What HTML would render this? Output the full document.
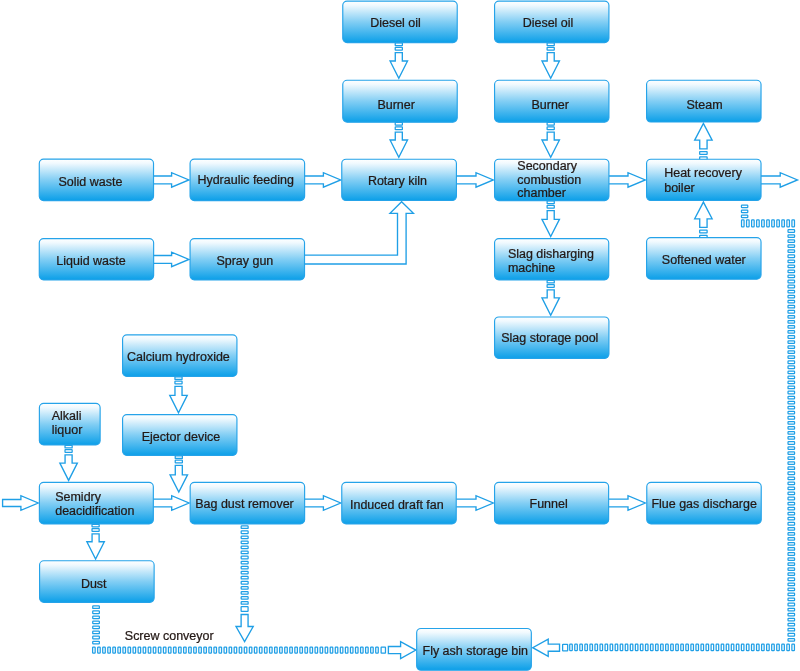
<!DOCTYPE html>
<html lang="en">
<head>
<meta charset="utf-8">
<title>Hazardous waste incineration process flow</title>
<style>
html,body{margin:0;padding:0;background:#fff;}
body{width:800px;height:671px;overflow:hidden;}
svg{display:block;will-change:transform;}
.b{fill:url(#g);stroke:#25a3e9;stroke-width:1.15;}
.a{fill:#fff;stroke:#1f9fe6;stroke-width:1.35;stroke-linejoin:miter;stroke-miterlimit:10;}
.d{fill:#fff;stroke:#1f9fe6;stroke-width:1.25;}
text{font-family:"Liberation Sans",Arial,Helvetica,sans-serif;font-size:13.3px;fill:#231815;stroke:#231815;stroke-width:0.25px;}
</style>
</head>
<body>
<svg width="800" height="671" viewBox="0 0 800 671">
<defs>
<linearGradient id="g" x1="0" y1="0" x2="0" y2="1">
<stop offset="0" stop-color="#ffffff"/>
<stop offset="0.1" stop-color="#f0f9fe"/>
<stop offset="0.5" stop-color="#82cef4"/>
<stop offset="1" stop-color="#0b9fe8"/>
</linearGradient>
</defs>
<rect class="d" x="395.23" y="42.98" width="7.15" height="2.65" rx="0.3" ry="0.3"/>
<rect class="d" x="395.23" y="47.38" width="7.15" height="2.65" rx="0.3" ry="0.3"/>
<path class="a" d="M395.28 52.58V61H390.06L398.8 78.29L407.54 61H402.32V52.58Z"/>
<rect class="d" x="395.23" y="122.47" width="7.15" height="2.65" rx="0.3" ry="0.3"/>
<rect class="d" x="395.23" y="126.87" width="7.15" height="2.65" rx="0.3" ry="0.3"/>
<path class="a" d="M395.28 132.08V140H390.06L398.8 157.29L407.54 140H402.32V132.08Z"/>
<rect class="d" x="547.12" y="42.98" width="7.15" height="2.65" rx="0.3" ry="0.3"/>
<rect class="d" x="547.12" y="47.38" width="7.15" height="2.65" rx="0.3" ry="0.3"/>
<path class="a" d="M547.18 52.58V61H541.96L550.7 78.29L559.44 61H554.23V52.58Z"/>
<rect class="d" x="547.12" y="122.47" width="7.15" height="2.65" rx="0.3" ry="0.3"/>
<rect class="d" x="547.12" y="126.87" width="7.15" height="2.65" rx="0.3" ry="0.3"/>
<path class="a" d="M547.18 132.08V140H541.96L550.7 157.29L559.44 140H554.23V132.08Z"/>
<rect class="d" x="547.12" y="200.97" width="7.15" height="2.65" rx="0.3" ry="0.3"/>
<rect class="d" x="547.12" y="205.38" width="7.15" height="2.65" rx="0.3" ry="0.3"/>
<path class="a" d="M547.18 210.57V219.3H541.96L550.7 236.59L559.44 219.3H554.23V210.57Z"/>
<rect class="d" x="547.12" y="280.28" width="7.15" height="2.65" rx="0.3" ry="0.3"/>
<rect class="d" x="547.12" y="284.68" width="7.15" height="2.65" rx="0.3" ry="0.3"/>
<path class="a" d="M547.18 289.88V297.9H541.96L550.7 315.19L559.44 297.9H554.23V289.88Z"/>
<rect class="d" x="699.67" y="156.97" width="7.45" height="2.65" rx="0.3" ry="0.3"/>
<rect class="d" x="699.67" y="151.68" width="7.45" height="2.65" rx="0.3" ry="0.3"/>
<path class="a" d="M699.73 148.82V140.1H694.68L703.4 123.37L712.12 140.1H707.07V148.82Z"/>
<rect class="d" x="699.67" y="235.47" width="7.45" height="2.65" rx="0.3" ry="0.3"/>
<rect class="d" x="699.67" y="230.18" width="7.45" height="2.65" rx="0.3" ry="0.3"/>
<path class="a" d="M699.73 227.32V218.8H694.68L703.4 202.07L712.12 218.8H707.07V227.32Z"/>
<rect class="d" x="65.02" y="445.28" width="7.15" height="2.65" rx="0.3" ry="0.3"/>
<rect class="d" x="65.02" y="449.68" width="7.15" height="2.65" rx="0.3" ry="0.3"/>
<path class="a" d="M65.07 454.88V463.1H59.86L68.6 480.39L77.34 463.1H72.12V454.88Z"/>
<rect class="d" x="174.93" y="376.78" width="7.15" height="2.65" rx="0.3" ry="0.3"/>
<rect class="d" x="174.93" y="381.18" width="7.15" height="2.65" rx="0.3" ry="0.3"/>
<path class="a" d="M174.97 386.38V395.4H169.76L178.5 412.69L187.24 395.4H182.03V386.38Z"/>
<rect class="d" x="175.23" y="455.78" width="7.15" height="2.65" rx="0.3" ry="0.3"/>
<rect class="d" x="175.23" y="460.18" width="7.15" height="2.65" rx="0.3" ry="0.3"/>
<path class="a" d="M175.28 465.38V474.8H170.06L178.8 492.09L187.54 474.8H182.33V465.38Z"/>
<rect class="d" x="92.02" y="524.27" width="7.15" height="2.65" rx="0.3" ry="0.3"/>
<rect class="d" x="92.02" y="528.67" width="7.15" height="2.65" rx="0.3" ry="0.3"/>
<path class="a" d="M92.07 533.88V541.7H86.86L95.6 558.99L104.34 541.7H99.12V533.88Z"/>
<path class="a" d="M153.5 175.97H171.6V172.65L188.89 179.9L171.6 187.15V183.83H153.5"/>
<path class="a" d="M304.5 175.97H323.4V172.65L340.69 179.9L323.4 187.15V183.83H304.5"/>
<path class="a" d="M456.5 175.97H476V172.65L493.29 179.9L476 187.15V183.83H456.5"/>
<path class="a" d="M609 175.97H628V172.65L645.29 179.9L628 187.15V183.83H609"/>
<path class="a" d="M761 175.97H780.2V172.65L797.49 179.9L780.2 187.15V183.83H761"/>
<path class="a" d="M153.5 255.47H171.6V252.15L188.89 259.4L171.6 266.65V263.32H153.5"/>
<path class="a" d="M153.3 499.07H171.7V495.75L188.99 503L171.7 510.25V506.93H153.3"/>
<path class="a" d="M304.5 499.07H323.4V495.75L340.69 503L323.4 510.25V506.93H304.5"/>
<path class="a" d="M456.3 499.07H476V495.75L493.29 503L476 510.25V506.93H456.3"/>
<path class="a" d="M608.8 499.07H628V495.75L645.29 503L628 510.25V506.93H608.8"/>
<path class="a" d="M2.58 499.52H20.9V495.75L38.19 503L20.9 510.25V506.48H2.58Z"/>
<path class="a" d="M304.5 255.1H397.5V213.3H390L401.6 201.8L413.4 213.3H406.1V264H304.5"/>
<rect class="d" x="741.43" y="205.03" width="6.35" height="2.55" rx="0.6" ry="0.6"/>
<rect class="d" x="741.43" y="210.12" width="6.35" height="2.55" rx="0.6" ry="0.6"/>
<rect class="d" x="741.43" y="215.12" width="6.35" height="2.55" rx="0.6" ry="0.6"/>
<rect class="d" x="741.52" y="219.92" width="2.55" height="6.85" rx="0.6" ry="0.6"/>
<rect class="d" x="746.56" y="219.92" width="2.55" height="6.85" rx="0.6" ry="0.6"/>
<rect class="d" x="751.61" y="219.92" width="2.55" height="6.85" rx="0.6" ry="0.6"/>
<rect class="d" x="756.64" y="219.92" width="2.55" height="6.85" rx="0.6" ry="0.6"/>
<rect class="d" x="761.68" y="219.92" width="2.55" height="6.85" rx="0.6" ry="0.6"/>
<rect class="d" x="766.73" y="219.92" width="2.55" height="6.85" rx="0.6" ry="0.6"/>
<rect class="d" x="771.76" y="219.92" width="2.55" height="6.85" rx="0.6" ry="0.6"/>
<rect class="d" x="776.8" y="219.92" width="2.55" height="6.85" rx="0.6" ry="0.6"/>
<rect class="d" x="781.85" y="219.92" width="2.55" height="6.85" rx="0.6" ry="0.6"/>
<rect class="d" x="786.88" y="219.92" width="2.55" height="6.85" rx="0.6" ry="0.6"/>
<rect class="d" x="791.92" y="219.92" width="2.55" height="6.85" rx="0.6" ry="0.6"/>
<rect class="d" x="788.02" y="229.72" width="6.55" height="2.55" rx="0.6" ry="0.6"/>
<rect class="d" x="788.02" y="234.77" width="6.55" height="2.55" rx="0.6" ry="0.6"/>
<rect class="d" x="788.02" y="239.82" width="6.55" height="2.55" rx="0.6" ry="0.6"/>
<rect class="d" x="788.02" y="244.87" width="6.55" height="2.55" rx="0.6" ry="0.6"/>
<rect class="d" x="788.02" y="249.91" width="6.55" height="2.55" rx="0.6" ry="0.6"/>
<rect class="d" x="788.02" y="254.96" width="6.55" height="2.55" rx="0.6" ry="0.6"/>
<rect class="d" x="788.02" y="260.01" width="6.55" height="2.55" rx="0.6" ry="0.6"/>
<rect class="d" x="788.02" y="265.05" width="6.55" height="2.55" rx="0.6" ry="0.6"/>
<rect class="d" x="788.02" y="270.1" width="6.55" height="2.55" rx="0.6" ry="0.6"/>
<rect class="d" x="788.02" y="275.15" width="6.55" height="2.55" rx="0.6" ry="0.6"/>
<rect class="d" x="788.02" y="280.2" width="6.55" height="2.55" rx="0.6" ry="0.6"/>
<rect class="d" x="788.02" y="285.24" width="6.55" height="2.55" rx="0.6" ry="0.6"/>
<rect class="d" x="788.02" y="290.29" width="6.55" height="2.55" rx="0.6" ry="0.6"/>
<rect class="d" x="788.02" y="295.34" width="6.55" height="2.55" rx="0.6" ry="0.6"/>
<rect class="d" x="788.02" y="300.38" width="6.55" height="2.55" rx="0.6" ry="0.6"/>
<rect class="d" x="788.02" y="305.43" width="6.55" height="2.55" rx="0.6" ry="0.6"/>
<rect class="d" x="788.02" y="310.48" width="6.55" height="2.55" rx="0.6" ry="0.6"/>
<rect class="d" x="788.02" y="315.52" width="6.55" height="2.55" rx="0.6" ry="0.6"/>
<rect class="d" x="788.02" y="320.57" width="6.55" height="2.55" rx="0.6" ry="0.6"/>
<rect class="d" x="788.02" y="325.62" width="6.55" height="2.55" rx="0.6" ry="0.6"/>
<rect class="d" x="788.02" y="330.67" width="6.55" height="2.55" rx="0.6" ry="0.6"/>
<rect class="d" x="788.02" y="335.71" width="6.55" height="2.55" rx="0.6" ry="0.6"/>
<rect class="d" x="788.02" y="340.76" width="6.55" height="2.55" rx="0.6" ry="0.6"/>
<rect class="d" x="788.02" y="345.81" width="6.55" height="2.55" rx="0.6" ry="0.6"/>
<rect class="d" x="788.02" y="350.85" width="6.55" height="2.55" rx="0.6" ry="0.6"/>
<rect class="d" x="788.02" y="355.9" width="6.55" height="2.55" rx="0.6" ry="0.6"/>
<rect class="d" x="788.02" y="360.95" width="6.55" height="2.55" rx="0.6" ry="0.6"/>
<rect class="d" x="788.02" y="365.99" width="6.55" height="2.55" rx="0.6" ry="0.6"/>
<rect class="d" x="788.02" y="371.04" width="6.55" height="2.55" rx="0.6" ry="0.6"/>
<rect class="d" x="788.02" y="376.09" width="6.55" height="2.55" rx="0.6" ry="0.6"/>
<rect class="d" x="788.02" y="381.13" width="6.55" height="2.55" rx="0.6" ry="0.6"/>
<rect class="d" x="788.02" y="386.18" width="6.55" height="2.55" rx="0.6" ry="0.6"/>
<rect class="d" x="788.02" y="391.23" width="6.55" height="2.55" rx="0.6" ry="0.6"/>
<rect class="d" x="788.02" y="396.28" width="6.55" height="2.55" rx="0.6" ry="0.6"/>
<rect class="d" x="788.02" y="401.32" width="6.55" height="2.55" rx="0.6" ry="0.6"/>
<rect class="d" x="788.02" y="406.37" width="6.55" height="2.55" rx="0.6" ry="0.6"/>
<rect class="d" x="788.02" y="411.42" width="6.55" height="2.55" rx="0.6" ry="0.6"/>
<rect class="d" x="788.02" y="416.46" width="6.55" height="2.55" rx="0.6" ry="0.6"/>
<rect class="d" x="788.02" y="421.51" width="6.55" height="2.55" rx="0.6" ry="0.6"/>
<rect class="d" x="788.02" y="426.56" width="6.55" height="2.55" rx="0.6" ry="0.6"/>
<rect class="d" x="788.02" y="431.61" width="6.55" height="2.55" rx="0.6" ry="0.6"/>
<rect class="d" x="788.02" y="436.65" width="6.55" height="2.55" rx="0.6" ry="0.6"/>
<rect class="d" x="788.02" y="441.7" width="6.55" height="2.55" rx="0.6" ry="0.6"/>
<rect class="d" x="788.02" y="446.75" width="6.55" height="2.55" rx="0.6" ry="0.6"/>
<rect class="d" x="788.02" y="451.79" width="6.55" height="2.55" rx="0.6" ry="0.6"/>
<rect class="d" x="788.02" y="456.84" width="6.55" height="2.55" rx="0.6" ry="0.6"/>
<rect class="d" x="788.02" y="461.89" width="6.55" height="2.55" rx="0.6" ry="0.6"/>
<rect class="d" x="788.02" y="466.93" width="6.55" height="2.55" rx="0.6" ry="0.6"/>
<rect class="d" x="788.02" y="471.98" width="6.55" height="2.55" rx="0.6" ry="0.6"/>
<rect class="d" x="788.02" y="477.03" width="6.55" height="2.55" rx="0.6" ry="0.6"/>
<rect class="d" x="788.02" y="482.08" width="6.55" height="2.55" rx="0.6" ry="0.6"/>
<rect class="d" x="788.02" y="487.12" width="6.55" height="2.55" rx="0.6" ry="0.6"/>
<rect class="d" x="788.02" y="492.17" width="6.55" height="2.55" rx="0.6" ry="0.6"/>
<rect class="d" x="788.02" y="497.22" width="6.55" height="2.55" rx="0.6" ry="0.6"/>
<rect class="d" x="788.02" y="502.26" width="6.55" height="2.55" rx="0.6" ry="0.6"/>
<rect class="d" x="788.02" y="507.31" width="6.55" height="2.55" rx="0.6" ry="0.6"/>
<rect class="d" x="788.02" y="512.36" width="6.55" height="2.55" rx="0.6" ry="0.6"/>
<rect class="d" x="788.02" y="517.4" width="6.55" height="2.55" rx="0.6" ry="0.6"/>
<rect class="d" x="788.02" y="522.45" width="6.55" height="2.55" rx="0.6" ry="0.6"/>
<rect class="d" x="788.02" y="527.5" width="6.55" height="2.55" rx="0.6" ry="0.6"/>
<rect class="d" x="788.02" y="532.54" width="6.55" height="2.55" rx="0.6" ry="0.6"/>
<rect class="d" x="788.02" y="537.59" width="6.55" height="2.55" rx="0.6" ry="0.6"/>
<rect class="d" x="788.02" y="542.64" width="6.55" height="2.55" rx="0.6" ry="0.6"/>
<rect class="d" x="788.02" y="547.69" width="6.55" height="2.55" rx="0.6" ry="0.6"/>
<rect class="d" x="788.02" y="552.73" width="6.55" height="2.55" rx="0.6" ry="0.6"/>
<rect class="d" x="788.02" y="557.78" width="6.55" height="2.55" rx="0.6" ry="0.6"/>
<rect class="d" x="788.02" y="562.83" width="6.55" height="2.55" rx="0.6" ry="0.6"/>
<rect class="d" x="788.02" y="567.87" width="6.55" height="2.55" rx="0.6" ry="0.6"/>
<rect class="d" x="788.02" y="572.92" width="6.55" height="2.55" rx="0.6" ry="0.6"/>
<rect class="d" x="788.02" y="577.97" width="6.55" height="2.55" rx="0.6" ry="0.6"/>
<rect class="d" x="788.02" y="583.01" width="6.55" height="2.55" rx="0.6" ry="0.6"/>
<rect class="d" x="788.02" y="588.06" width="6.55" height="2.55" rx="0.6" ry="0.6"/>
<rect class="d" x="788.02" y="593.11" width="6.55" height="2.55" rx="0.6" ry="0.6"/>
<rect class="d" x="788.02" y="598.16" width="6.55" height="2.55" rx="0.6" ry="0.6"/>
<rect class="d" x="788.02" y="603.2" width="6.55" height="2.55" rx="0.6" ry="0.6"/>
<rect class="d" x="788.02" y="608.25" width="6.55" height="2.55" rx="0.6" ry="0.6"/>
<rect class="d" x="788.02" y="613.3" width="6.55" height="2.55" rx="0.6" ry="0.6"/>
<rect class="d" x="788.02" y="618.34" width="6.55" height="2.55" rx="0.6" ry="0.6"/>
<rect class="d" x="788.02" y="623.39" width="6.55" height="2.55" rx="0.6" ry="0.6"/>
<rect class="d" x="788.02" y="628.44" width="6.55" height="2.55" rx="0.6" ry="0.6"/>
<rect class="d" x="788.02" y="633.49" width="6.55" height="2.55" rx="0.6" ry="0.6"/>
<rect class="d" x="788.02" y="638.53" width="6.55" height="2.55" rx="0.6" ry="0.6"/>
<rect class="d" x="569.73" y="644.07" width="2.55" height="6.45" rx="0.6" ry="0.6"/>
<rect class="d" x="574.77" y="644.07" width="2.55" height="6.45" rx="0.6" ry="0.6"/>
<rect class="d" x="579.82" y="644.07" width="2.55" height="6.45" rx="0.6" ry="0.6"/>
<rect class="d" x="584.87" y="644.07" width="2.55" height="6.45" rx="0.6" ry="0.6"/>
<rect class="d" x="589.92" y="644.07" width="2.55" height="6.45" rx="0.6" ry="0.6"/>
<rect class="d" x="594.97" y="644.07" width="2.55" height="6.45" rx="0.6" ry="0.6"/>
<rect class="d" x="600.02" y="644.07" width="2.55" height="6.45" rx="0.6" ry="0.6"/>
<rect class="d" x="605.07" y="644.07" width="2.55" height="6.45" rx="0.6" ry="0.6"/>
<rect class="d" x="610.12" y="644.07" width="2.55" height="6.45" rx="0.6" ry="0.6"/>
<rect class="d" x="615.17" y="644.07" width="2.55" height="6.45" rx="0.6" ry="0.6"/>
<rect class="d" x="620.22" y="644.07" width="2.55" height="6.45" rx="0.6" ry="0.6"/>
<rect class="d" x="625.26" y="644.07" width="2.55" height="6.45" rx="0.6" ry="0.6"/>
<rect class="d" x="630.31" y="644.07" width="2.55" height="6.45" rx="0.6" ry="0.6"/>
<rect class="d" x="635.36" y="644.07" width="2.55" height="6.45" rx="0.6" ry="0.6"/>
<rect class="d" x="640.41" y="644.07" width="2.55" height="6.45" rx="0.6" ry="0.6"/>
<rect class="d" x="645.46" y="644.07" width="2.55" height="6.45" rx="0.6" ry="0.6"/>
<rect class="d" x="650.51" y="644.07" width="2.55" height="6.45" rx="0.6" ry="0.6"/>
<rect class="d" x="655.56" y="644.07" width="2.55" height="6.45" rx="0.6" ry="0.6"/>
<rect class="d" x="660.61" y="644.07" width="2.55" height="6.45" rx="0.6" ry="0.6"/>
<rect class="d" x="665.66" y="644.07" width="2.55" height="6.45" rx="0.6" ry="0.6"/>
<rect class="d" x="670.71" y="644.07" width="2.55" height="6.45" rx="0.6" ry="0.6"/>
<rect class="d" x="675.75" y="644.07" width="2.55" height="6.45" rx="0.6" ry="0.6"/>
<rect class="d" x="680.8" y="644.07" width="2.55" height="6.45" rx="0.6" ry="0.6"/>
<rect class="d" x="685.85" y="644.07" width="2.55" height="6.45" rx="0.6" ry="0.6"/>
<rect class="d" x="690.9" y="644.07" width="2.55" height="6.45" rx="0.6" ry="0.6"/>
<rect class="d" x="695.95" y="644.07" width="2.55" height="6.45" rx="0.6" ry="0.6"/>
<rect class="d" x="701" y="644.07" width="2.55" height="6.45" rx="0.6" ry="0.6"/>
<rect class="d" x="706.05" y="644.07" width="2.55" height="6.45" rx="0.6" ry="0.6"/>
<rect class="d" x="711.1" y="644.07" width="2.55" height="6.45" rx="0.6" ry="0.6"/>
<rect class="d" x="716.15" y="644.07" width="2.55" height="6.45" rx="0.6" ry="0.6"/>
<rect class="d" x="721.2" y="644.07" width="2.55" height="6.45" rx="0.6" ry="0.6"/>
<rect class="d" x="726.24" y="644.07" width="2.55" height="6.45" rx="0.6" ry="0.6"/>
<rect class="d" x="731.29" y="644.07" width="2.55" height="6.45" rx="0.6" ry="0.6"/>
<rect class="d" x="736.34" y="644.07" width="2.55" height="6.45" rx="0.6" ry="0.6"/>
<rect class="d" x="741.39" y="644.07" width="2.55" height="6.45" rx="0.6" ry="0.6"/>
<rect class="d" x="746.44" y="644.07" width="2.55" height="6.45" rx="0.6" ry="0.6"/>
<rect class="d" x="751.49" y="644.07" width="2.55" height="6.45" rx="0.6" ry="0.6"/>
<rect class="d" x="756.54" y="644.07" width="2.55" height="6.45" rx="0.6" ry="0.6"/>
<rect class="d" x="761.59" y="644.07" width="2.55" height="6.45" rx="0.6" ry="0.6"/>
<rect class="d" x="766.64" y="644.07" width="2.55" height="6.45" rx="0.6" ry="0.6"/>
<rect class="d" x="771.69" y="644.07" width="2.55" height="6.45" rx="0.6" ry="0.6"/>
<rect class="d" x="776.73" y="644.07" width="2.55" height="6.45" rx="0.6" ry="0.6"/>
<rect class="d" x="781.78" y="644.07" width="2.55" height="6.45" rx="0.6" ry="0.6"/>
<rect class="d" x="786.83" y="644.07" width="2.55" height="6.45" rx="0.6" ry="0.6"/>
<rect class="d" x="791.88" y="644.07" width="2.55" height="6.45" rx="0.6" ry="0.6"/>
<rect class="d" x="562.62" y="644.42" width="5.05" height="6.45" rx="0.4"/>
<path class="a" d="M559.53 644.12H548.2V639.11L532.71 647.7L548.2 656.29V651.28H559.53Z"/>
<rect class="d" x="92.72" y="605.93" width="6.65" height="2.55" rx="0.6" ry="0.6"/>
<rect class="d" x="92.72" y="610.98" width="6.65" height="2.55" rx="0.6" ry="0.6"/>
<rect class="d" x="92.72" y="616.03" width="6.65" height="2.55" rx="0.6" ry="0.6"/>
<rect class="d" x="92.72" y="621.08" width="6.65" height="2.55" rx="0.6" ry="0.6"/>
<rect class="d" x="92.72" y="626.13" width="6.65" height="2.55" rx="0.6" ry="0.6"/>
<rect class="d" x="92.72" y="631.18" width="6.65" height="2.55" rx="0.6" ry="0.6"/>
<rect class="d" x="92.72" y="636.23" width="6.65" height="2.55" rx="0.6" ry="0.6"/>
<rect class="d" x="92.72" y="641.28" width="6.65" height="2.55" rx="0.6" ry="0.6"/>
<rect class="d" x="92.62" y="647.02" width="2.55" height="6.15" rx="0.6" ry="0.6"/>
<rect class="d" x="97.68" y="647.02" width="2.55" height="6.15" rx="0.6" ry="0.6"/>
<rect class="d" x="102.73" y="647.02" width="2.55" height="6.15" rx="0.6" ry="0.6"/>
<rect class="d" x="107.79" y="647.02" width="2.55" height="6.15" rx="0.6" ry="0.6"/>
<rect class="d" x="112.84" y="647.02" width="2.55" height="6.15" rx="0.6" ry="0.6"/>
<rect class="d" x="117.9" y="647.02" width="2.55" height="6.15" rx="0.6" ry="0.6"/>
<rect class="d" x="122.95" y="647.02" width="2.55" height="6.15" rx="0.6" ry="0.6"/>
<rect class="d" x="128.01" y="647.02" width="2.55" height="6.15" rx="0.6" ry="0.6"/>
<rect class="d" x="133.06" y="647.02" width="2.55" height="6.15" rx="0.6" ry="0.6"/>
<rect class="d" x="138.12" y="647.02" width="2.55" height="6.15" rx="0.6" ry="0.6"/>
<rect class="d" x="143.17" y="647.02" width="2.55" height="6.15" rx="0.6" ry="0.6"/>
<rect class="d" x="148.23" y="647.02" width="2.55" height="6.15" rx="0.6" ry="0.6"/>
<rect class="d" x="153.28" y="647.02" width="2.55" height="6.15" rx="0.6" ry="0.6"/>
<rect class="d" x="158.34" y="647.02" width="2.55" height="6.15" rx="0.6" ry="0.6"/>
<rect class="d" x="163.4" y="647.02" width="2.55" height="6.15" rx="0.6" ry="0.6"/>
<rect class="d" x="168.45" y="647.02" width="2.55" height="6.15" rx="0.6" ry="0.6"/>
<rect class="d" x="173.5" y="647.02" width="2.55" height="6.15" rx="0.6" ry="0.6"/>
<rect class="d" x="178.56" y="647.02" width="2.55" height="6.15" rx="0.6" ry="0.6"/>
<rect class="d" x="183.61" y="647.02" width="2.55" height="6.15" rx="0.6" ry="0.6"/>
<rect class="d" x="188.67" y="647.02" width="2.55" height="6.15" rx="0.6" ry="0.6"/>
<rect class="d" x="193.72" y="647.02" width="2.55" height="6.15" rx="0.6" ry="0.6"/>
<rect class="d" x="198.78" y="647.02" width="2.55" height="6.15" rx="0.6" ry="0.6"/>
<rect class="d" x="203.84" y="647.02" width="2.55" height="6.15" rx="0.6" ry="0.6"/>
<rect class="d" x="208.89" y="647.02" width="2.55" height="6.15" rx="0.6" ry="0.6"/>
<rect class="d" x="213.94" y="647.02" width="2.55" height="6.15" rx="0.6" ry="0.6"/>
<rect class="d" x="219" y="647.02" width="2.55" height="6.15" rx="0.6" ry="0.6"/>
<rect class="d" x="224.06" y="647.02" width="2.55" height="6.15" rx="0.6" ry="0.6"/>
<rect class="d" x="229.11" y="647.02" width="2.55" height="6.15" rx="0.6" ry="0.6"/>
<rect class="d" x="234.16" y="647.02" width="2.55" height="6.15" rx="0.6" ry="0.6"/>
<rect class="d" x="239.22" y="647.02" width="2.55" height="6.15" rx="0.6" ry="0.6"/>
<rect class="d" x="244.27" y="647.02" width="2.55" height="6.15" rx="0.6" ry="0.6"/>
<rect class="d" x="249.33" y="647.02" width="2.55" height="6.15" rx="0.6" ry="0.6"/>
<rect class="d" x="254.38" y="647.02" width="2.55" height="6.15" rx="0.6" ry="0.6"/>
<rect class="d" x="259.44" y="647.02" width="2.55" height="6.15" rx="0.6" ry="0.6"/>
<rect class="d" x="264.5" y="647.02" width="2.55" height="6.15" rx="0.6" ry="0.6"/>
<rect class="d" x="269.55" y="647.02" width="2.55" height="6.15" rx="0.6" ry="0.6"/>
<rect class="d" x="274.61" y="647.02" width="2.55" height="6.15" rx="0.6" ry="0.6"/>
<rect class="d" x="279.66" y="647.02" width="2.55" height="6.15" rx="0.6" ry="0.6"/>
<rect class="d" x="284.72" y="647.02" width="2.55" height="6.15" rx="0.6" ry="0.6"/>
<rect class="d" x="289.77" y="647.02" width="2.55" height="6.15" rx="0.6" ry="0.6"/>
<rect class="d" x="294.83" y="647.02" width="2.55" height="6.15" rx="0.6" ry="0.6"/>
<rect class="d" x="299.88" y="647.02" width="2.55" height="6.15" rx="0.6" ry="0.6"/>
<rect class="d" x="304.94" y="647.02" width="2.55" height="6.15" rx="0.6" ry="0.6"/>
<rect class="d" x="309.99" y="647.02" width="2.55" height="6.15" rx="0.6" ry="0.6"/>
<rect class="d" x="315.05" y="647.02" width="2.55" height="6.15" rx="0.6" ry="0.6"/>
<rect class="d" x="320.1" y="647.02" width="2.55" height="6.15" rx="0.6" ry="0.6"/>
<rect class="d" x="325.15" y="647.02" width="2.55" height="6.15" rx="0.6" ry="0.6"/>
<rect class="d" x="330.21" y="647.02" width="2.55" height="6.15" rx="0.6" ry="0.6"/>
<rect class="d" x="335.26" y="647.02" width="2.55" height="6.15" rx="0.6" ry="0.6"/>
<rect class="d" x="340.32" y="647.02" width="2.55" height="6.15" rx="0.6" ry="0.6"/>
<rect class="d" x="345.38" y="647.02" width="2.55" height="6.15" rx="0.6" ry="0.6"/>
<rect class="d" x="350.43" y="647.02" width="2.55" height="6.15" rx="0.6" ry="0.6"/>
<rect class="d" x="355.49" y="647.02" width="2.55" height="6.15" rx="0.6" ry="0.6"/>
<rect class="d" x="360.54" y="647.02" width="2.55" height="6.15" rx="0.6" ry="0.6"/>
<rect class="d" x="365.6" y="647.02" width="2.55" height="6.15" rx="0.6" ry="0.6"/>
<rect class="d" x="370.65" y="647.02" width="2.55" height="6.15" rx="0.6" ry="0.6"/>
<rect class="d" x="375.71" y="647.02" width="2.55" height="6.15" rx="0.6" ry="0.6"/>
<rect class="d" x="381.12" y="647.02" width="4.35" height="6.15" rx="0.4"/>
<path class="a" d="M388.38 646.52H400.6V641.61L415.89 650.1L400.6 658.59V653.68H388.38Z"/>
<rect class="d" x="241.18" y="525.93" width="6.95" height="2.55" rx="0.6" ry="0.6"/>
<rect class="d" x="241.18" y="530.98" width="6.95" height="2.55" rx="0.6" ry="0.6"/>
<rect class="d" x="241.18" y="536.03" width="6.95" height="2.55" rx="0.6" ry="0.6"/>
<rect class="d" x="241.18" y="541.08" width="6.95" height="2.55" rx="0.6" ry="0.6"/>
<rect class="d" x="241.18" y="546.13" width="6.95" height="2.55" rx="0.6" ry="0.6"/>
<rect class="d" x="241.18" y="551.18" width="6.95" height="2.55" rx="0.6" ry="0.6"/>
<rect class="d" x="241.18" y="556.23" width="6.95" height="2.55" rx="0.6" ry="0.6"/>
<rect class="d" x="241.18" y="561.28" width="6.95" height="2.55" rx="0.6" ry="0.6"/>
<rect class="d" x="241.18" y="566.33" width="6.95" height="2.55" rx="0.6" ry="0.6"/>
<rect class="d" x="241.18" y="571.38" width="6.95" height="2.55" rx="0.6" ry="0.6"/>
<rect class="d" x="241.18" y="576.43" width="6.95" height="2.55" rx="0.6" ry="0.6"/>
<rect class="d" x="241.18" y="581.48" width="6.95" height="2.55" rx="0.6" ry="0.6"/>
<rect class="d" x="241.18" y="586.53" width="6.95" height="2.55" rx="0.6" ry="0.6"/>
<rect class="d" x="241.18" y="591.58" width="6.95" height="2.55" rx="0.6" ry="0.6"/>
<rect class="d" x="241.18" y="596.63" width="6.95" height="2.55" rx="0.6" ry="0.6"/>
<rect class="d" x="241.18" y="601.68" width="6.95" height="2.55" rx="0.6" ry="0.6"/>
<rect class="d" x="241.12" y="606.62" width="6.95" height="4.75" rx="0.4"/>
<path class="a" d="M241.12 614.47V626.5H235.99L244.6 641.54L253.21 626.5H248.07V614.47Z"/>
<rect class="b" x="342.77" y="1.07" width="114.45" height="41.55" rx="4.3" ry="4.3"/>
<rect class="b" x="494.57" y="1.07" width="114.35" height="41.55" rx="4.3" ry="4.3"/>
<rect class="b" x="342.77" y="80.28" width="114.45" height="41.85" rx="4.3" ry="4.3"/>
<rect class="b" x="494.57" y="80.28" width="114.35" height="41.85" rx="4.3" ry="4.3"/>
<rect class="b" x="646.58" y="80.28" width="114.45" height="41.75" rx="4.3" ry="4.3"/>
<rect class="b" x="39.28" y="159.17" width="114.25" height="41.45" rx="4.3" ry="4.3"/>
<rect class="b" x="190.07" y="159.17" width="114.55" height="41.45" rx="4.3" ry="4.3"/>
<rect class="b" x="341.77" y="159.27" width="114.65" height="41.25" rx="4.3" ry="4.3"/>
<rect class="b" x="494.57" y="159.27" width="114.35" height="41.35" rx="4.3" ry="4.3"/>
<rect class="b" x="646.58" y="159.27" width="114.45" height="41.25" rx="4.3" ry="4.3"/>
<rect class="b" x="39.28" y="238.57" width="114.35" height="41.35" rx="4.3" ry="4.3"/>
<rect class="b" x="190.07" y="238.57" width="114.45" height="41.35" rx="4.3" ry="4.3"/>
<rect class="b" x="494.57" y="238.57" width="114.15" height="41.35" rx="4.3" ry="4.3"/>
<rect class="b" x="646.58" y="237.67" width="114.45" height="41.55" rx="4.3" ry="4.3"/>
<rect class="b" x="494.57" y="316.97" width="114.35" height="41.45" rx="4.3" ry="4.3"/>
<rect class="b" x="122.58" y="334.88" width="114.35" height="41.55" rx="4.3" ry="4.3"/>
<rect class="b" x="39.38" y="403.38" width="60.75" height="41.55" rx="4.3" ry="4.3"/>
<rect class="b" x="122.58" y="414.57" width="114.35" height="40.85" rx="4.3" ry="4.3"/>
<rect class="b" x="39.38" y="482.38" width="113.95" height="41.55" rx="4.3" ry="4.3"/>
<rect class="b" x="190.17" y="482.38" width="114.45" height="41.55" rx="4.3" ry="4.3"/>
<rect class="b" x="341.77" y="482.38" width="114.45" height="41.55" rx="4.3" ry="4.3"/>
<rect class="b" x="494.57" y="482.38" width="114.05" height="41.55" rx="4.3" ry="4.3"/>
<rect class="b" x="646.78" y="482.38" width="114.45" height="41.55" rx="4.3" ry="4.3"/>
<rect class="b" x="39.58" y="560.78" width="114.55" height="41.55" rx="4.3" ry="4.3"/>
<rect class="b" x="416.68" y="628.48" width="114.65" height="41.75" rx="4.3" ry="4.3"/>
<text transform="translate(370.2 26.9) scale(0.9398 1)">Diesel oil</text>
<text transform="translate(522.7 26.9) scale(0.9398 1)">Diesel oil</text>
<text transform="translate(377.4 108.6) scale(0.9398 1)">Burner</text>
<text transform="translate(531.5 108.5) scale(0.9398 1)">Burner</text>
<text transform="translate(686.5 108.5) scale(0.9398 1)">Steam</text>
<text transform="translate(58.5 185.6) scale(0.9398 1)">Solid waste</text>
<text transform="translate(197.4 183.6) scale(0.9398 1)">Hydraulic feeding</text>
<text transform="translate(367.9 184.9) scale(0.9398 1)">Rotary kiln</text>
<text transform="translate(517.3 170) scale(0.9398 1)">Secondary</text>
<text transform="translate(517.3 183.7) scale(0.9398 1)">combustion</text>
<text transform="translate(517.3 197.3) scale(0.9398 1)">chamber</text>
<text transform="translate(664.2 177.2) scale(0.9398 1)">Heat recovery</text>
<text transform="translate(664.2 192) scale(0.9398 1)">boiler</text>
<text transform="translate(56.3 264.6) scale(0.9398 1)">Liquid waste</text>
<text transform="translate(216.4 264.6) scale(0.9398 1)">Spray gun</text>
<text transform="translate(507.9 257.7) scale(0.9398 1)">Slag disharging</text>
<text transform="translate(507.9 271.8) scale(0.9398 1)">machine</text>
<text transform="translate(661.8 263.6) scale(0.9398 1)">Softened water</text>
<text transform="translate(501.2 342.4) scale(0.9398 1)">Slag storage pool</text>
<text transform="translate(127.1 360.7) scale(0.9398 1)">Calcium hydroxide</text>
<text transform="translate(51.7 420) scale(0.9398 1)">Alkali</text>
<text transform="translate(51.8 433.8) scale(0.9398 1)">liquor</text>
<text transform="translate(141.7 440.6) scale(0.9398 1)">Ejector device</text>
<text transform="translate(55.2 500.6) scale(0.9398 1)">Semidry</text>
<text transform="translate(55.2 514.9) scale(0.9398 1)">deacidification</text>
<text transform="translate(195.2 508) scale(0.9398 1)">Bag dust remover</text>
<text transform="translate(350 508.8) scale(0.9398 1)">Induced draft fan</text>
<text transform="translate(529.5 508.3) scale(0.9398 1)">Funnel</text>
<text transform="translate(651.4 507.6) scale(0.9398 1)">Flue gas discharge</text>
<text transform="translate(80.9 587.8) scale(0.9398 1)">Dust</text>
<text transform="translate(124.8 639.6) scale(0.9398 1)">Screw conveyor</text>
<text transform="translate(422.5 654.8) scale(0.9398 1)">Fly ash storage bin</text>
</svg>
</body>
</html>
